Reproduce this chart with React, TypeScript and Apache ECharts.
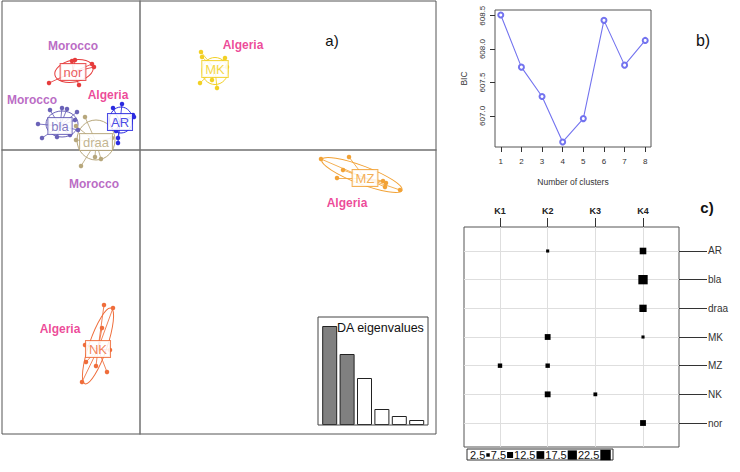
import React, { useEffect, useRef } from 'react';
import * as echarts from 'echarts';

// ---------- Panel a) DAPC scatter ----------
const clusterNames = ['nor', 'bla', 'AR', 'draa', 'MK', 'MZ', 'NK'];
const clusterCenters = [[-6.7, 7.8], [-8.0, 2.4], [-2.0, 2.8], [-4.4, 0.8], [7.5, 8.1], [22.5, -2.8], [-4.2, -19.9]];
const norPoints = [[-6.8, 8.9], [-6.5, 9.0], [-4.8, 8.6], [-4.6, 8.3], [-9.1, 6.7], [-6.1, 6.5]];
const blaPoints = [[-7.8, 4.2], [-9.0, 4.0], [-7.3, 4.1], [-10.2, 2.6], [-9.8, 1.2], [-8.3, 1.3], [-7.0, 1.5], [-6.3, 3.8], [-6.2, 2.0], [-6.5, 3.0]];
const arPoints = [[-1.8, 4.6], [-2.7, 4.2], [-0.7, 3.5], [-0.6, 3.3], [-2.2, 1.2], [-2.2, 0.7], [-2.5, 3.0], [-2.4, 1.9]];
const draaPoints = [[-5.5, 3.3], [-6.4, 2.4], [-6.4, 1.0], [-5.9, -1.6], [-4.5, -0.7], [-3.9, -0.9], [-2.8, 1.2]];
const mkPoints = [[6.1, 9.8], [6.2, 9.3], [8.5, 9.2], [8.7, 8.3], [7.7, 6.2], [6.0, 6.7], [7.2, 7.0]];
const mzPoints = [[18.1, -0.9], [20.9, -0.7], [20.3, -2.0], [19.7, -2.8], [24.3, -3.1], [24.6, -3.3], [24.5, -3.7], [26.0, -4.0]];
const nkPoints = [[-3.6, -15.5], [-2.7, -15.8], [-3.8, -17.8], [-5.4, -21.2], [-4.4, -21.6], [-3.3, -22.2], [-5.8, -23.2], [-3.0, -20.0], [-5.5, -19.5]];
const clusterPoints = [norPoints, blaPoints, arPoints, draaPoints, mkPoints, mzPoints, nkPoints];
// ellipse: [cx, cy, rx, ry, angleDeg]
const clusterEllipses = [
  [-6.6, 7.9, 1.95, 1.1, 12],
  [-7.8, 2.6, 1.6, 1.3, 0],
  [-1.9, 3.0, 1.15, 1.3, 0],
  [-4.4, 1.0, 1.9, 2.0, 0],
  [7.5, 7.9, 1.3, 1.35, 0],
  [22.2, -2.5, 4.3, 0.9, -21],
  [-4.2, -19.6, 4.0, 0.9, 71],
];
const countryLabels = [
  { name: 'Morocco', value: [-6.7, 10.4] },
  { name: 'Morocco', value: [-10.8, 5.0] },
  { name: 'Algeria', value: [-3.2, 5.5] },
  { name: 'Morocco', value: [-4.6, -3.4] },
  { name: 'Algeria', value: [10.3, 10.5] },
  { name: 'Algeria', value: [20.7, -5.3] },
  { name: 'Algeria', value: [-8.0, -17.9] },
];
const eigenLabels = ['1', '2', '3', '4', '5', '6'];
const eigenValues = [99, 71, 47, 16, 9, 5];

// ---------- Panel b) BIC ----------
const bicClusters = [1, 2, 3, 4, 5, 6, 7, 8];
const bicValues = [608.51, 607.73, 607.29, 606.61, 606.96, 608.43, 607.76, 608.13];
const bicTicks = [607.0, 607.5, 608.0, 608.5];

// ---------- Panel c) balloon plot ----------
const kCols = ['K1', 'K2', 'K3', 'K4'];
const popRows = ['AR', 'bla', 'draa', 'MK', 'MZ', 'NK', 'nor'];
const tableAR = [0, 2, 0, 9];
const tableBla = [0, 0, 0, 18];
const tableDraa = [0, 0, 0, 11];
const tableMK = [0, 7, 0, 2];
const tableMZ = [4, 4, 0, 0];
const tableNK = [0, 7, 3, 0];
const tableNor = [0, 0, 0, 7];
const tableRows = [tableAR, tableBla, tableDraa, tableMK, tableMZ, tableNK, tableNor];
const balloonLegend = [2.5, 7.5, 12.5, 17.5, 22.5];

// ---------- styles ----------
const FONT = 'Liberation Sans, Arial, sans-serif';
const clusterColors = ['#e63c3c', '#6a62b8', '#2b2be0', '#b7a77c', '#f2d024', '#f2a236', '#ef6d3b'];
const countryColors: Record<string, string> = { Morocco: '#a845b5', Algeria: '#e8197e' };
const sq = (v: number) => 2.2 * Math.sqrt(v);
const C_X = [0.245, 4.755];
const C_Y = [0.163, 7.837];

function buildOption() {
  const series: any[] = [];
  clusterNames.forEach((name, i) => {
    const col = clusterColors[i];
    const c = clusterCenters[i];
    series.push({
      type: 'lines', coordinateSystem: 'cartesian2d', xAxisIndex: 0, yAxisIndex: 0,
      data: clusterPoints[i].map((p) => ({ coords: [c, p] })),
      lineStyle: { color: col, width: 1, opacity: 0.85 }, silent: true, z: 2,
    });
    series.push({
      type: 'custom', xAxisIndex: 0, yAxisIndex: 0, data: [clusterEllipses[i]], z: 2, silent: true,
      renderItem: (params: any, api: any) => {
        const p = api.coord([api.value(0), api.value(1)]);
        const s = api.size([api.value(2), api.value(3)]);
        return {
          type: 'ellipse', x: p[0], y: p[1], rotation: (api.value(4) * Math.PI) / 180,
          shape: { cx: 0, cy: 0, rx: s[0], ry: s[1] },
          style: { fill: 'none', stroke: col, lineWidth: 1 },
        };
      },
    });
    series.push({
      type: 'scatter', xAxisIndex: 0, yAxisIndex: 0, data: clusterPoints[i],
      symbolSize: 4.5, itemStyle: { color: col, opacity: 1 }, z: 3, silent: true,
    });
    series.push({
      type: 'scatter', xAxisIndex: 0, yAxisIndex: 0, data: [{ name, value: c }],
      symbolSize: 1, itemStyle: { color: 'transparent' }, z: 5, silent: true,
      label: {
        show: true, position: 'inside', formatter: '{b}', color: col, opacity: 0.85,
        fontFamily: FONT, fontSize: 13, backgroundColor: '#fff', borderColor: col,
        borderWidth: 1, padding: [2, 3, 1, 3],
      },
    });
  });
  series.push({
    type: 'scatter', xAxisIndex: 0, yAxisIndex: 0, symbolSize: 1, itemStyle: { color: 'transparent' },
    z: 6, silent: true,
    data: countryLabels.map((d) => ({
      name: d.name, value: d.value,
      label: { color: countryColors[d.name] },
    })),
    label: { show: true, position: 'inside', formatter: '{b}', fontFamily: FONT, fontSize: 12, fontWeight: 'bold' },
  });
  // eigenvalues
  series.push({
    type: 'bar', xAxisIndex: 1, yAxisIndex: 1, barWidth: 15, silent: true,
    data: eigenValues.map((v, i) => ({
      value: v,
      itemStyle: { color: i < 2 ? '#808080' : '#ffffff', borderColor: '#222', borderWidth: 1 },
    })),
  });
  // BIC line
  series.push({
    type: 'line', xAxisIndex: 2, yAxisIndex: 2, silent: true,
    data: bicClusters.map((k, i) => [k, bicValues[i]]),
    symbol: 'emptyCircle', symbolSize: 5,
    lineStyle: { color: '#7373ef', width: 1.1 }, itemStyle: { color: '#7373ef', borderWidth: 1 },
  });
  // balloon grid lines
  const gridLines = [
    ...kCols.map((_, i) => ({ coords: [[i + 1, C_Y[0]], [i + 1, C_Y[1]]] })),
    ...popRows.map((_, i) => ({ coords: [[C_X[0], i + 1], [C_X[1], i + 1]] })),
  ];
  series.push({
    type: 'lines', coordinateSystem: 'cartesian2d', xAxisIndex: 3, yAxisIndex: 3, z: 1, silent: true,
    data: gridLines, lineStyle: { color: '#dedede', width: 1, opacity: 1 },
  });
  const cells: number[][] = [];
  tableRows.forEach((row, r) => row.forEach((v, c) => { if (v > 0) cells.push([c + 1, r + 1, v]); }));
  series.push({
    type: 'scatter', xAxisIndex: 3, yAxisIndex: 3, data: cells, symbol: 'rect', z: 4, silent: true,
    symbolSize: (val: number[]) => sq(val[2]), itemStyle: { color: '#000', opacity: 1 },
  });

  const hidden = { axisLine: { show: false }, axisTick: { show: false }, axisLabel: { show: false }, splitLine: { show: false } };
  const rich: any = { g: { width: 1 } };
  let legendText = '';
  balloonLegend.forEach((v, i) => {
    rich['s' + i] = { width: sq(v), height: sq(v), backgroundColor: '#000' };
    legendText += `${v}{g|}{s${i}|}{g|}`;
  });

  return {
    animation: false,
    textStyle: { fontFamily: FONT },
    grid: [
      { left: 2, top: 1, width: 434, height: 433, show: true, borderColor: '#555', borderWidth: 1, backgroundColor: 'transparent' },
      { left: 321, top: 317, width: 104.4, height: 108 },
      { left: 495, top: 10, width: 156, height: 137, show: true, borderColor: '#555', borderWidth: 1 },
      { left: 464, top: 227, width: 215, height: 220, show: true, borderColor: '#555', borderWidth: 1 },
    ],
    xAxis: [
      {
        gridIndex: 0, type: 'value', min: -13.8, max: 29.6,
        axisLine: { show: true, onZero: true, lineStyle: { color: '#707070', width: 1.5 } },
        axisTick: { show: false }, axisLabel: { show: false }, splitLine: { show: false },
      },
      { gridIndex: 1, type: 'category', data: eigenLabels, ...hidden },
      {
        gridIndex: 2, type: 'value', min: 0.72, max: 8.28,
        axisLine: { show: false }, splitLine: { show: false },
        axisTick: { show: true, customValues: bicClusters, length: 5, lineStyle: { color: '#333' } },
        axisLabel: { show: true, customValues: bicClusters, fontSize: 8, color: '#333', margin: 10 },
        name: 'Number of clusters', nameLocation: 'middle', nameGap: 30,
        nameTextStyle: { fontSize: 8.5, color: '#333' },
      },
      {
        gridIndex: 3, type: 'value', min: C_X[0], max: C_X[1], position: 'top',
        axisLine: { show: false }, splitLine: { show: false },
        axisTick: { show: true, customValues: [1, 2, 3, 4], length: 9, lineStyle: { color: '#333' } },
        axisLabel: {
          show: true, customValues: [1, 2, 3, 4], margin: 12, fontSize: 9, fontWeight: 'bold', color: '#222',
          formatter: (v: number) => kCols[Math.round(v) - 1] || '',
        },
      },
    ],
    yAxis: [
      {
        gridIndex: 0, type: 'value', min: -28.4, max: 14.9,
        axisLine: { show: true, onZero: true, lineStyle: { color: '#707070', width: 1.5 } },
        axisTick: { show: false }, axisLabel: { show: false }, splitLine: { show: false },
      },
      { gridIndex: 1, type: 'value', min: 0, max: 108, ...hidden },
      {
        gridIndex: 2, type: 'value', min: 606.535, max: 608.585,
        axisLine: { show: false }, splitLine: { show: false },
        axisTick: { show: true, customValues: bicTicks, length: 5, lineStyle: { color: '#333' } },
        axisLabel: {
          show: true, customValues: bicTicks, rotate: 90, fontSize: 8, color: '#333', margin: 9,
          formatter: (v: number) => v.toFixed(1),
        },
        name: 'BIC', nameLocation: 'middle', nameGap: 27, nameTextStyle: { fontSize: 8.5, color: '#333' },
      },
      {
        gridIndex: 3, type: 'value', min: C_Y[0], max: C_Y[1], inverse: true, position: 'right',
        axisLine: { show: false }, splitLine: { show: false },
        axisTick: { show: true, customValues: [1, 2, 3, 4, 5, 6, 7], length: 28, lineStyle: { color: '#333' } },
        axisLabel: {
          show: true, customValues: [1, 2, 3, 4, 5, 6, 7], margin: 29, fontSize: 10, color: '#333',
          formatter: (v: number) => popRows[Math.round(v) - 1] || '',
        },
      },
    ],
    graphic: [
      { type: 'rect', shape: { x: 318, y: 317, width: 110, height: 108 }, style: { fill: 'none', stroke: '#444', lineWidth: 1 }, z: 10 },
      { type: 'text', x: 337, y: 328, style: { text: 'DA eigenvalues', fontSize: 12.5, fontFamily: FONT, fill: '#111', verticalAlign: 'middle' }, z: 11 },
      { type: 'text', x: 332, y: 40, style: { text: 'a)', fontSize: 15, fontFamily: FONT, fill: '#111', align: 'center', verticalAlign: 'middle' } },
      { type: 'text', x: 703, y: 40, style: { text: 'b)', fontSize: 16, fontFamily: FONT, fill: '#111', align: 'center', verticalAlign: 'middle' } },
      { type: 'text', x: 707, y: 207, style: { text: 'c)', fontSize: 15, fontWeight: 'bold', fontFamily: FONT, fill: '#111', align: 'center', verticalAlign: 'middle' } },
      { type: 'rect', shape: { x: 467, y: 449, width: 146, height: 11 }, style: { fill: '#fff', stroke: '#333', lineWidth: 1 } },
      { type: 'text', x: 470, y: 455, style: { text: legendText, rich, fontSize: 11, fontFamily: FONT, fill: '#111', verticalAlign: 'middle' } },
    ],
    series,
  };
}

export default function App() {
  const ref = useRef<HTMLDivElement>(null);
  useEffect(() => {
    document.body.style.margin = '0';
    const chart = echarts.init(ref.current!, null, { renderer: 'svg' });
    chart.setOption(buildOption() as any);
    return () => chart.dispose();
  }, []);
  return <div ref={ref} style={{ width: 740, height: 472 }} />;
}
